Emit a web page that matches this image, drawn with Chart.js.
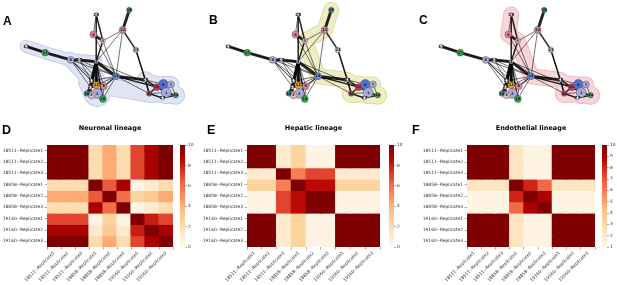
<!DOCTYPE html>
<html><head><meta charset="utf-8">
<script src="https://cdn.jsdelivr.net/npm/chart.js@4.4.0/dist/chart.umd.min.js"></script>
<style>
html,body{margin:0;padding:0;background:#fff;width:617px;height:285px;overflow:hidden;position:relative;}
canvas{position:absolute;}
.lt{position:absolute;font:bold 12px "Liberation Sans",Arial,sans-serif;color:#000;line-height:12px;}
</style></head><body>
<canvas id="gA" width="200" height="118" style="left:0;top:0"></canvas>
<canvas id="gB" width="200" height="118" style="left:202px;top:0"></canvas>
<canvas id="gC" width="200" height="118" style="left:415px;top:0"></canvas>
<canvas id="hD" width="175" height="167" style="left:0;top:118px"></canvas>
<canvas id="cD" width="17" height="112" style="left:180px;top:140px"></canvas>
<canvas id="hE" width="182" height="167" style="left:200px;top:118px"></canvas>
<canvas id="cE" width="17" height="112" style="left:389px;top:140px"></canvas>
<canvas id="hF" width="187" height="167" style="left:410px;top:118px"></canvas>
<canvas id="cF" width="15" height="112" style="left:602px;top:140px"></canvas>
<div class="lt" style="left:3px;top:15px">A</div>
<div class="lt" style="left:209px;top:13.5px">B</div>
<div class="lt" style="left:419px;top:13.5px">C</div>
<div class="lt" style="left:2px;top:123.5px;font-size:12.5px">D</div>
<div class="lt" style="left:207px;top:123.5px;font-size:12.5px">E</div>
<div class="lt" style="left:412px;top:123.5px;font-size:12.5px">F</div>
<script>
// ---------------- DATA ----------------
const rowLabels = ['18511--Replicate1','18511--Replicate2','18511--Replicate3','18858--Replicate1','18858--Replicate2','18858--Replicate3','19160--Replicate1','19160--Replicate2','19160--Replicate3'];
const colLabels = rowLabels.slice();

const neuronal = [
 [10,10,10,2,4.2,2,7,9,10],
 [10,10,10,2,4.2,2,7,9,10],
 [10,10,10,2,4.2,2,7,9,10],
 [2,2,2,10,6.5,9,0.3,1,2],
 [4.2,4.2,4.2,6.5,10,6,2.5,3,4.2],
 [2,2,2,9,6,10,0.3,1,2],
 [7,7,7,0.3,2.5,0.3,10,8,7],
 [9,9,9,1,3,1,8,10,9],
 [10,10,10,2,4.2,2,7,9,10]
];
const hepatic = [
 [10,10,1,2.5,0.3,0.3,10,10,10],
 [10,10,1,2.5,0.3,0.3,10,10,10],
 [1,1,10,5.5,7,7,1,1,1],
 [2.5,2.5,5.5,10,8.5,8.5,2.5,2.5,2.5],
 [0.3,0.3,7,8.5,10,10,0.3,0.3,0.3],
 [0.3,0.3,7,8.5,10,10,0.3,0.3,0.3],
 [10,10,1,2.5,0.3,0.3,10,10,10],
 [10,10,1,2.5,0.3,0.3,10,10,10],
 [10,10,1,2.5,0.3,0.3,10,10,10]
];
const endothelial = [
 [10,10,10,2.3,1.3,1.3,10,10,10],
 [10,10,10,2.3,1.3,1.3,10,10,10],
 [10,10,10,2.3,1.3,1.3,10,10,10],
 [2.3,2.3,2.3,10,8,6.5,2.3,2.3,2.3],
 [1.3,1.3,1.3,8,10,9,1.3,1.3,1.3],
 [1.3,1.3,1.3,6.5,9,10,1.3,1.3,1.3],
 [10,10,10,2.3,1.3,1.3,10,10,10],
 [10,10,10,2.3,1.3,1.3,10,10,10],
 [10,10,10,2.3,1.3,1.3,10,10,10]
];

// network nodes (layout coordinates) and community membership
const nodeLabels = ['15','17','8','14','4','28','6','5','19','22','23','13','18','21','0','7','1','20','24','27','11','12','9','2','3','10','16','25'];
const nodeX      = [22,  42,  69, 78, 96, 96, 93, 103,131,124,138,117,148,160,167,175,170,152,180,166, 91, 96,104, 97, 91, 86,103, 90];
const nodeY      = [45,  52,  60, 60, 62, 10, 32, 39,  5, 27, 49, 78, 82, 90, 87, 87, 96, 97, 99,102, 83, 88, 89, 97, 99, 97,103, 90];
const nodeGroup  = ['w','g','l','w','w','w','p','q','t','p','q','b','w','r','B','l','l','r','g','w','w','o','p','l','q','t','g','w'];
const nodeWeight = [1,   3,   3,  1,  1,  1,  3,  2,  2,  3,  2,  3,  1,  3,  5,  3,  5,  2,  2,  1,  1,  3,  3,  5,  3,  2,  3,  1];
const edges = [
 ['15','17',3],['17','8',3],['15','8',1],['8','14',3],['14','4',3],['8','4',1],['8','13',1],
 ['28','6',1],['28','5',2],['28','4',2],['6','5',3],['6','13',1],['5','22',1],['5','4',2],['5','13',1],
 ['22','19',3],['22','4',1],['22','23',2],['22','13',1],['23','18',2],['23','20',1],
 ['4','13',3],['13','18',3],['18','21',2],['18','20',2],['13','21',2],['13','20',1],['4','21',1],
 ['4','11',3],['4','12',3],['4','25',3],['4','2',2],['4','16',2],['4','9',1],
 ['8','11',1],['8','12',1],['8','9',1],['8','25',1],['14','13',1],['14','11',1],['14','9',1],
 ['13','9',1],['13','12',1],['13','2',1],['13','16',1],['13','3',1],['13','11',1],
 ['12','9',2],['12','2',2],['2','3',2],['3','10',2],['2','16',2],['9','16',1],['10','16',1],
 ['25','10',3],['25','12',3],['11','12',2],['25','3',2],['11','25',3],
 ['21','0',2],['0','7',2],['0','1',2],['1','24',2],['21','20',2],['20','27',2],['27','24',2],
 ['21','1',2],['7','1',1],['27','1',1],['20','1',1],['18','0',1],['7','24',1]
];
// lineage memberships (paths through member nodes)
const lineageA = [['15','17','8','4'],['8','11'],['11','2'],['9','20','21'],['18','21','0','7'],['20','1','24'],['21','1']];
const lineageB = [['19','22','5','13','18','21','0','7'],['20','1','24'],['21','1']];
const lineageC = [['28','6','5','13','18','21','0','7'],['20','1','24'],['21','1']];

// ---------------- STYLE ----------------
const OrRd = ['#fff7ec','#fee8c8','#fdd49e','#fdbb84','#fc8d59','#ef6548','#d7301f','#b30000','#7f0000'];
function hex(c){return [1,3,5].map(i=>parseInt(c.substr(i,2),16));}
function cmap(t){
  t=Math.max(0,Math.min(1,t)); const p=t*8; const i=Math.min(7,Math.floor(p)); const f=p-i;
  const a=hex(OrRd[i]), b=hex(OrRd[i+1]);
  return 'rgb('+a.map((v,k)=>Math.round(v+(b[k]-v)*f)).join(',')+')';
}
const groupColor = {w:'#f2f2f2',g:'#3a9e4f',l:'#a9abd8',p:'#d9829a',q:'#e6b9c0',t:'#2f8f86',b:'#6d89d6',B:'#4f6fd0',r:'#c8324f',o:'#e6a11f'};
const hullWidthsA = [11,14,25,16,15,17,21];
const hullWidthsBC = [14,17,21];
const tickFont = {family:'"DejaVu Sans"', size:4.4};

// ---------------- HEATMAPS ----------------
function heatmap(id, matrix, vmin, vmax, yWidth, title){
  const datasets = matrix.map((row,r)=>({
    data: row.map(()=>[r,r+1]),
    backgroundColor: row.map(v=>cmap((v-vmin)/(vmax-vmin))),
    borderWidth:0, barPercentage:1, categoryPercentage:1, grouped:false, inflateAmount:0.6
  }));
  new Chart(document.getElementById(id),{
    type:'bar',
    data:{labels:colLabels, datasets},
    options:{
      responsive:false, animation:false, devicePixelRatio:1, events:[],
      layout:{padding:{top:0,right:2,left:0,bottom:0}},
      plugins:{legend:{display:false},tooltip:{enabled:false},
        title:{display:true,text:title,fullSize:false,color:'#000',
          font:{family:'"DejaVu Sans"',size:6.5,weight:'bold'},padding:{top:6.4,bottom:12.8}}},
      scales:{
        x:{ticks:{autoSkip:false,minRotation:45,maxRotation:45,font:tickFont,color:'#333',padding:1},
           grid:{display:true,drawOnChartArea:false,tickLength:2.5,color:'#555',tickWidth:0.5},
           border:{display:false}, afterFit(a){a.height=38;}},
        y:{type:'linear',min:0,max:9,reverse:true,
           afterBuildTicks(a){a.ticks=rowLabels.map((_,i)=>({value:i+0.5}));},
           ticks:{autoSkip:false,font:tickFont,color:'#333',padding:1.5,callback:(v)=>rowLabels[Math.floor(v)]},
           grid:{display:true,drawOnChartArea:false,tickLength:2.5,color:'#555',tickWidth:0.5},
           border:{display:false}, afterFit(a){a.width=yWidth;}}
      }
    }
  });
}
function colorbar(id, vmin, vmax, step, w){
  new Chart(document.getElementById(id),{
    type:'bar',
    data:{labels:[''],datasets:[{data:[[vmin,vmax]],borderWidth:0,barPercentage:1,categoryPercentage:1,
      backgroundColor:(c)=>{const a=c.chart.chartArea; if(!a) return OrRd[4];
        const g=c.chart.ctx.createLinearGradient(0,a.bottom,0,a.top);
        OrRd.forEach((col,i)=>g.addColorStop(i/8,col)); return g;}}]},
    options:{responsive:false,animation:false,devicePixelRatio:1,events:[],
      layout:{padding:{top:5,bottom:5,left:0,right:0}},
      plugins:{legend:{display:false},tooltip:{enabled:false}},
      scales:{x:{display:false},
        y:{position:'right',min:vmin,max:vmax,ticks:{stepSize:step,font:tickFont,color:'#333',padding:1},
           grid:{display:true,drawOnChartArea:false,tickLength:2,color:'#555',tickWidth:0.5},
           border:{display:false}, afterFit(a){a.width=w;}}}
    }
  });
}
heatmap('hD', neuronal, 0, 10, 47, 'Neuronal lineage');
heatmap('hE', hepatic, 0, 10, 47, 'Hepatic lineage');
heatmap('hF', endothelial, 1, 10, 57, 'Endothelial lineage');
colorbar('cD',0,10,2,12);
colorbar('cE',0,10,2,12);
colorbar('cF',1,10,1,10);

// ---------------- NETWORKS ----------------
const labelPlugin = {id:'nodeLabels', afterDatasetsDraw(chart){
  const meta = chart.getDatasetMeta(chart.data.datasets.length-1);
  const ctx = chart.ctx; ctx.save(); ctx.textAlign='center'; ctx.textBaseline='middle';
  meta.data.forEach((pt,j)=>{
    const small = nodeWeight[j]<=1;
    ctx.font = 'bold '+(small?4.2:3.6)+'px "DejaVu Sans"';
    ctx.fillStyle = '#15152a';
    ctx.fillText(nodeLabels[j], pt.x, pt.y+0.2);
  });
  ctx.restore();
}};
function network(id, lineage, widths, fill, edge){
  const P = (k)=>{const i=nodeLabels.indexOf(k); return {x:nodeX[i], y:nodeY[i]};};
  const ds = [];
  const base = {showLine:true,pointRadius:0,tension:0,borderCapStyle:'round',borderJoinStyle:'round',clip:false};
  lineage.forEach((path,i)=>ds.push(Object.assign({},base,{data:path.map(P),borderColor:edge,borderWidth:widths[i]+2,order:31})));
  lineage.forEach((path,i)=>ds.push(Object.assign({},base,{data:path.map(P),borderColor:fill,borderWidth:widths[i],order:30})));
  edges.forEach(([a,b,k])=>ds.push({data:[P(a),P(b)],showLine:true,pointRadius:0,borderColor:'rgba(4,4,4,0.87)',
     borderWidth:[0,0.65,1.5,2.9][k],order:10,clip:false}));
  ds.push({data:nodeLabels.map(P),showLine:false,order:1,clip:false,
     pointRadius:nodeWeight.map(w=>1.2+w*0.75),
     pointBackgroundColor:nodeGroup.map(g=>groupColor[g]),
     pointBorderColor:'#555',pointBorderWidth:0.5});
  new Chart(document.getElementById(id),{
    type:'scatter', data:{datasets:ds},
    options:{responsive:false,animation:false,devicePixelRatio:1,events:[],
      layout:{padding:0},
      plugins:{legend:{display:false},tooltip:{enabled:false}},
      scales:{x:{display:false,min:0,max:200},y:{display:false,min:0,max:118,reverse:true}}},
    plugins:[labelPlugin]
  });
}
network('gA', lineageA, hullWidthsA, '#e1e4f4', '#c3c9ec');
network('gB', lineageB, hullWidthsBC, '#eeedc4', '#dedb9c');
network('gC', lineageC, hullWidthsBC, '#f8d5d8', '#f0b8be');
</script>
</body></html>
